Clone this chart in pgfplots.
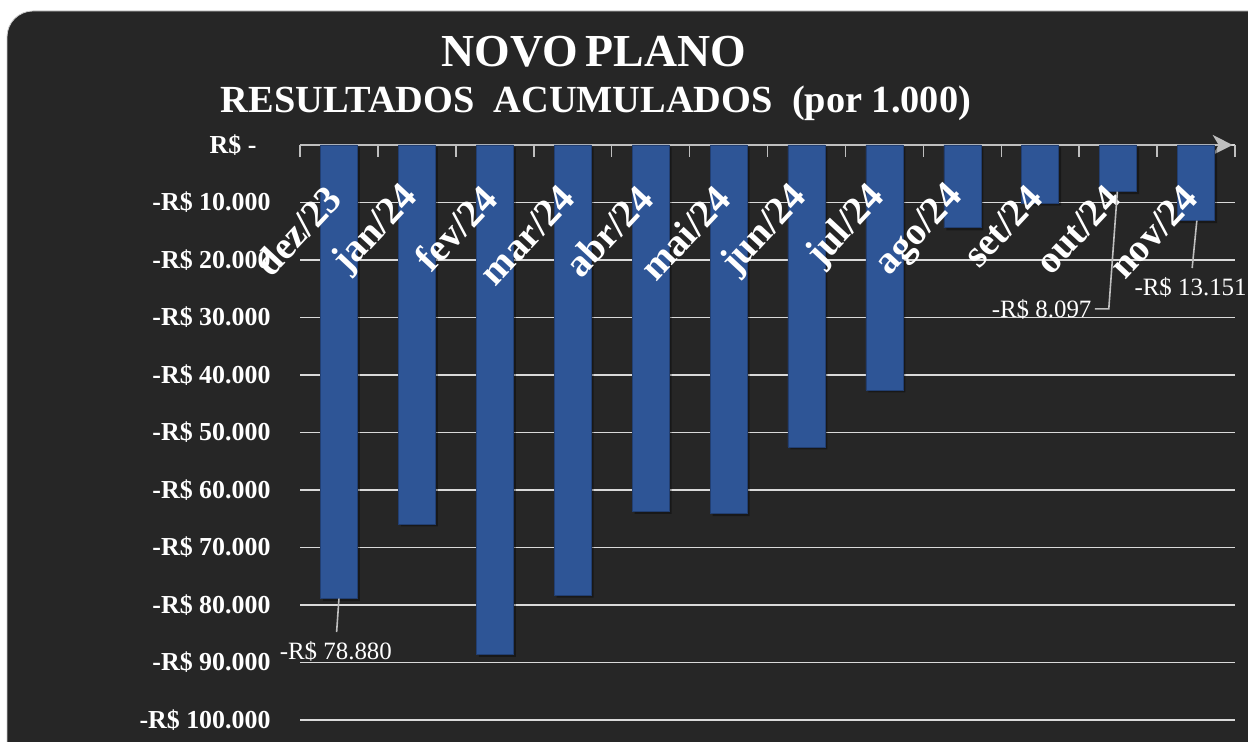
\documentclass[border=0pt]{standalone}
\usepackage{pgfplots}
\pgfplotsset{compat=1.18}
\usepackage{fontspec}
\setmainfont{Liberation Serif}
\usetikzlibrary{arrows.meta}
\definecolor{bg}{HTML}{262626}
\definecolor{barblue}{HTML}{2E5596}
\definecolor{baredge}{HTML}{223F72}
\definecolor{gridc}{HTML}{D9D9D9}
\definecolor{axisc}{HTML}{BFBFBF}
\pgfplotstableread{
idx value
0 -78880
1 -65900
2 -88600
3 -78300
4 -63700
5 -64100
6 -52500
7 -42600
8 -14400
9 -10100
10 -8097
11 -13151
}\datatable
\tikzset{catlab/.style={rotate=47, anchor=east, text=white, inner sep=1bp, font=\bfseries\fontsize{39}{41}\selectfont, xshift=-2bp, yshift=4bp}}
\tikzset{dlab/.style={text=white, font=\fontsize{25}{27}\selectfont, inner sep=0pt}}
\begin{document}
\begin{tikzpicture}[x=1bp,y=1bp]
\fill[white] (0,0) rectangle (1248,742);
\draw[fill=bg, draw=gray!40, line width=0.8bp, rounded corners=26bp] (7,-40) -- (7,731) -- (1290,731) -- (1290,-40) -- cycle;
\node[anchor=base, text=white, font=\bfseries\fontsize{46}{50}\selectfont] at (594,675) {NOVO\,PLANO};
\node[anchor=base, text=white, font=\bfseries\fontsize{38.5}{42}\selectfont] at (596,629) {RESULTADOS\ \ ACUMULADOS\ \ (por 1.000)};
\begin{axis}[
  at={(300bp,22bp)}, anchor=south west,
  scale only axis, width=935bp, height=575bp,
  xmin=-0.5, xmax=11.5, ymin=-100000, ymax=0,
  axis y line*=left, y axis line style={draw=none},
  axis x line*=top, x axis line style={draw=none},
  xtick={-0.5,0.5,...,11.5}, xticklabels={},
  major x tick style={draw=axisc, line width=1.5bp},
  tick align=inside, major tick length=12bp,
  ytick={0,-10000,-20000,-30000,-40000,-50000,-60000,-70000,-80000,-90000,-100000},
  yticklabels={{R\$ -\kern14bp},{-R\$ 10.000},{-R\$ 20.000},{-R\$ 30.000},{-R\$ 40.000},{-R\$ 50.000},{-R\$ 60.000},{-R\$ 70.000},{-R\$ 80.000},{-R\$ 90.000},{-R\$ 100.000}},
  major y tick style={draw=none},
  yticklabel style={text=white, font=\bfseries\fontsize{26}{28}\selectfont, anchor=east, xshift=-26bp},
  ymajorgrids, grid style={draw=gridc, line width=1.6bp},
  scaled y ticks=false,
  clip=false,
]
\draw[axisc, line width=1.6bp, -{Stealth[length=20bp,width=20bp,inset=6bp]}] (axis cs:-0.5,0) -- (axis cs:11.47,0);
\addplot[ybar, bar width=37bp, bar shift=0pt, fill=black, draw=none, fill opacity=0.35, forget plot, transform canvas={xshift=2.5bp,yshift=-2.5bp}] table[x=idx, y=value] {\datatable};
\addplot[ybar, bar width=37bp, bar shift=0pt, fill=barblue, draw=baredge, line width=0.6bp] table[x=idx, y=value] {\datatable};
% category labels
\node[catlab] at (axis cs:0,-8200) {dez/23};
\node[catlab] at (axis cs:1,-8200) {jan/24};
\node[catlab] at (axis cs:2,-8200) {fev/24};
\node[catlab] at (axis cs:3,-8200) {mar/24};
\node[catlab] at (axis cs:4,-8200) {abr/24};
\node[catlab] at (axis cs:5,-8200) {mai/24};
\node[catlab] at (axis cs:6,-8200) {jun/24};
\node[catlab] at (axis cs:7,-8200) {jul/24};
\node[catlab] at (axis cs:8,-8200) {ago/24};
\node[catlab] at (axis cs:9,-8200) {set/24};
\node[catlab] at (axis cs:10,-8200) {out/24};
\node[catlab] at (axis cs:11,-8200) {nov/24};
% data labels
\draw[axisc, line width=1.6bp] (axis cs:0,-78880) -- (axis cs:-0.03,-84700);
\node[dlab] at (axis cs:-0.04,-88000) {-R\$ 78.880};
\draw[axisc, line width=1.6bp] (axis cs:9.99,-8097) -- (axis cs:9.88,-28500) -- (axis cs:9.70,-28500);
\node[dlab, anchor=east] at (axis cs:9.66,-28650) {-R\$ 8.097};
\draw[axisc, line width=1.6bp] (axis cs:11.01,-13151) -- (axis cs:10.95,-21400);
\node[dlab] at (axis cs:10.93,-24800) {-R\$ 13.151};
\end{axis}
\pgfresetboundingbox
\useasboundingbox (0,0) rectangle (1248,742);
\end{tikzpicture}
\end{document}
